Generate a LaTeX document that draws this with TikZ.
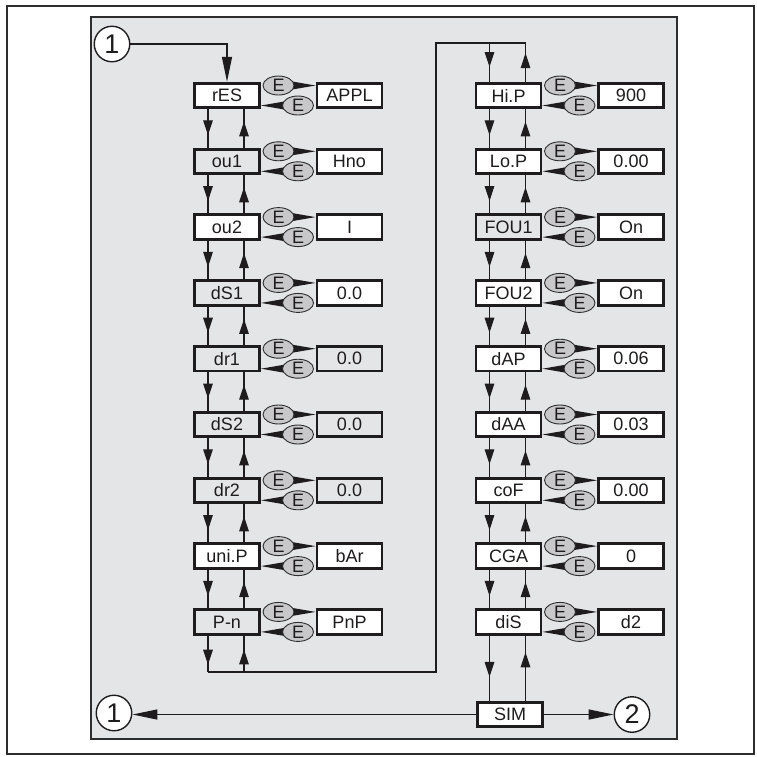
\documentclass[tikz,border=0pt]{standalone}
\usepackage{fontspec}
\setmainfont{Liberation Sans}
\usetikzlibrary{arrows.meta,decorations.markings,calc,shapes.geometric}
\definecolor{panel}{RGB}{228,229,231}
\definecolor{egray}{RGB}{200,200,202}
\definecolor{edge}{RGB}{45,45,45}
\definecolor{ink}{RGB}{30,28,29}
\pgfdeclarelayer{wedge}
\pgfdeclarelayer{bg}
\pgfsetlayers{bg,wedge,main}
\newcommand\prow[7]{%
  \node[#6] (#1) at (#2,#3) {#4};
  \node[#7] (#1v) at (#2+122.5,#3) {#5};
  \node[eoval] (#1a) at (#2+51.5,#3-10) {E};
  \node[eoval] (#1b) at (#2+71,#3+10) {E};
  \begin{pgfonlayer}{wedge}
    \fill[ink] ($(#1a.center)+(5,-5.5)$) -- ($(#1a.center)+(5,5.5)$) -- (#1v.west |- #1a.center) -- cycle;
    \fill[ink] ($(#1b.center)+(-5,-5.5)$) -- ($(#1b.center)+(-5,5.5)$) -- (#1.east |- #1b.center) -- cycle;
  \end{pgfonlayer}%
}
\begin{document}
\begin{tikzpicture}[x=1pt,y=-1pt,
  param/.style={draw=ink, line width=2.9pt, minimum width=65pt, minimum height=24.5pt,
    inner sep=0pt, font=\fontsize{18}{18}\selectfont, text=ink, fill=white},
  pgray/.style={param, fill=panel},
  eoval/.style={ellipse, draw=edge, fill=egray, line width=0.9pt, minimum width=31pt,
    minimum height=19pt, inner sep=0pt, font=\fontsize{18}{18}\selectfont, text=ink},
  conn/.style={draw=ink, line width=1.3pt},
  midarr/.style={conn, postaction={decorate}, decoration={markings,
    mark=at position #1 with {\arrow{Triangle[length=15pt,width=9.5pt]}}}},
  endarr/.style={conn, -{Triangle[length=25pt,width=10pt]}},
  mark circle/.style={circle, draw=ink, line width=1.4pt, minimum size=35.5pt, inner sep=0pt,
    font=\fontsize{27}{27}\selectfont, text=ink, fill=white},
]
\useasboundingbox (0,0) rectangle (757,756);
\begin{pgfonlayer}{bg}
  \draw[line width=2pt, draw=edge, fill=white] (7,6) rectangle (754,754);
  \draw[line width=1.3pt, draw=edge, fill=panel] (91,17) rectangle (677,739);
\end{pgfonlayer}

% left column
\prow{rES}{227}{95.5}{rES}{APPL}{param}{param}
\prow{ouA}{227}{161.3}{ou1}{Hno}{pgray}{param}
\prow{ouB}{227}{227.1}{ou2}{I}{param}{param}
\prow{dSA}{227}{292.9}{dS1}{0.0}{pgray}{param}
\prow{drA}{227}{358.7}{dr1}{0.0}{pgray}{pgray}
\prow{dSB}{227}{424.5}{dS2}{0.0}{pgray}{pgray}
\prow{drB}{227}{490.3}{dr2}{0.0}{pgray}{pgray}
\prow{uniP}{227}{556.1}{uni.P}{bAr}{param}{param}
\prow{Pn}{227}{621.9}{P-n}{PnP}{pgray}{param}

% right column
\prow{HiP}{508.5}{95.5}{Hi.P}{900}{param}{param}
\prow{LoP}{508.5}{161.3}{Lo.P}{0.00}{param}{param}
\prow{FOUA}{508.5}{227.1}{FOU1}{On}{pgray}{param}
\prow{FOUB}{508.5}{292.9}{FOU2}{On}{param}{param}
\prow{dAP}{508.5}{358.7}{dAP}{0.06}{param}{param}
\prow{dAA}{508.5}{424.5}{dAA}{0.03}{param}{param}
\prow{coF}{508.5}{490.3}{coF}{0.00}{param}{param}
\prow{CGA}{508.5}{556.1}{CGA}{0}{param}{param}
\prow{diS}{508.5}{621.9}{diS}{d2}{param}{param}

\node[param] (SIM) at (510,714.5) {SIM};

\node[mark circle] (cTop) at (112,44) {1};
\node[mark circle] (cBot) at (114,713) {1};
\node[mark circle] (cTwo) at (632,714.5) {2};

% vertical links
\foreach \a/\b in {rES/ouA,ouA/ouB,ouB/dSA,dSA/drA,drA/dSB,dSB/drB,drB/uniP,uniP/Pn,
                   HiP/LoP,LoP/FOUA,FOUA/FOUB,FOUB/dAP,dAP/dAA,dAA/coF,coF/CGA,CGA/diS}{
  \draw[midarr=0.68] ([xshift=-19pt]\a.south) -- ([xshift=-19pt]\b.north);
  \draw[midarr=0.68] ([xshift=17pt]\b.north) -- ([xshift=17pt]\a.south);
}
\draw[midarr=0.62] ([xshift=-19pt]diS.south) -- ([xshift=-19pt,yshift=-1.5pt]SIM.north -| diS.south);
\draw[midarr=0.75] ([xshift=17pt,yshift=-1.5pt]SIM.north -| diS.south) -- ([xshift=17pt]diS.south);

% loop from left column to right column
\coordinate (bl) at (208,672);
\coordinate (br) at (436,672);
\coordinate (tr) at (436,43);
\coordinate (tk) at (525.5,43);
\draw[midarr=0.8] ([xshift=-19pt]Pn.south) -- ([xshift=-19pt]Pn.south |- bl);
\draw[conn] ([xshift=-19pt]Pn.south |- bl) -- (br) -- (tr) -- (tk);
\draw[midarr=0.62] ([xshift=17pt]Pn.south |- bl) -- ([xshift=17pt]Pn.south);
\draw[midarr=0.62] ([xshift=-19pt]HiP.north |- tr) -- ([xshift=-19pt]HiP.north);
\draw[midarr=0.74] ([xshift=17pt]HiP.north) -- ([xshift=17pt]HiP.north |- tr);

% entry / exits
\draw[endarr] (cTop.east) -- (rES.north |- cTop.east) -- (rES.north);
\draw[endarr] (SIM.west) -- (SIM.west -| cBot.east);
\draw[endarr] (SIM.east) -- (cTwo.west);
\end{tikzpicture}
\end{document}
